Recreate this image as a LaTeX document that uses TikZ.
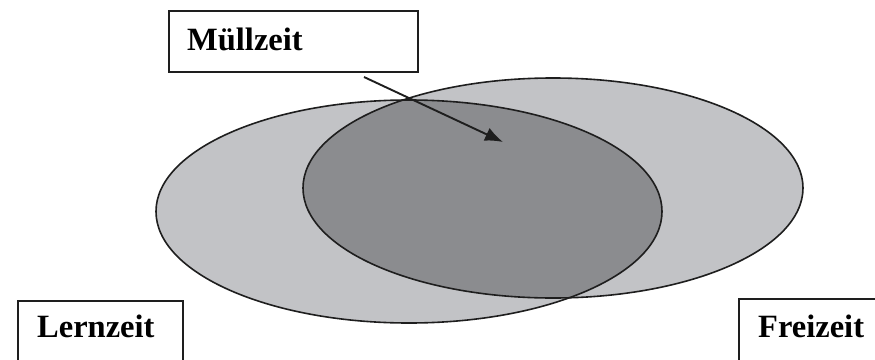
\documentclass[tikz,border=0pt]{standalone}
\usepackage{fontspec}
\setmainfont{Liberation Serif}
\usetikzlibrary{arrows.meta}
\definecolor{lightset}{RGB}{194,195,198}
\definecolor{darkset}{RGB}{139,140,143}
\definecolor{edgecol}{RGB}{30,30,30}
\tikzset{
  labelbox/.style={draw=edgecol, line width=1.8pt, fill=white, anchor=north west,
    inner xsep=0pt, inner ysep=0pt},
  labeltext/.style={anchor=base west, inner sep=0pt, font=\fontsize{32.5}{38}\selectfont\bfseries},
  setline/.style={draw=edgecol, line width=1.6pt},
  pointer/.style={draw=edgecol, line width=1.9pt, -{Latex[length=18pt,width=14pt]}}
}
\begin{document}
\begin{tikzpicture}[x=1pt,y=-1pt]
\useasboundingbox (0,0) rectangle (875,359);
\clip (0,0) rectangle (875,359);
% sets
\fill[lightset] (409,211.5) ellipse [x radius=253, y radius=111.5];
\fill[lightset] (553,188) ellipse [x radius=250, y radius=110];
\begin{scope}
  \clip (409,211.5) ellipse [x radius=253, y radius=111.5];
  \fill[darkset] (553,188) ellipse [x radius=250, y radius=110];
\end{scope}
\path[setline] (409,211.5) ellipse [x radius=253, y radius=111.5];
\path[setline] (553,188) ellipse [x radius=250, y radius=110];
% labels
\node[labelbox, minimum width=249pt, minimum height=61pt] (muell) at (168,10) {};
\node[labeltext] (muelltext) at (187,50) {Müllzeit};
\node[labelbox, minimum width=165pt, minimum height=80pt] (lern) at (17,300) {};
\node[labeltext] (lerntext) at (37,337) {Lernzeit};
\node[labelbox, minimum width=160pt, minimum height=80pt] (frei) at (738,298) {};
\node[labeltext] (freitext) at (758,337) {Freizeit};
% arrow
\coordinate (astart) at (364,77);
\coordinate (atip) at (503,142);
\draw[pointer] (astart) -- (atip);
\end{tikzpicture}
\end{document}
